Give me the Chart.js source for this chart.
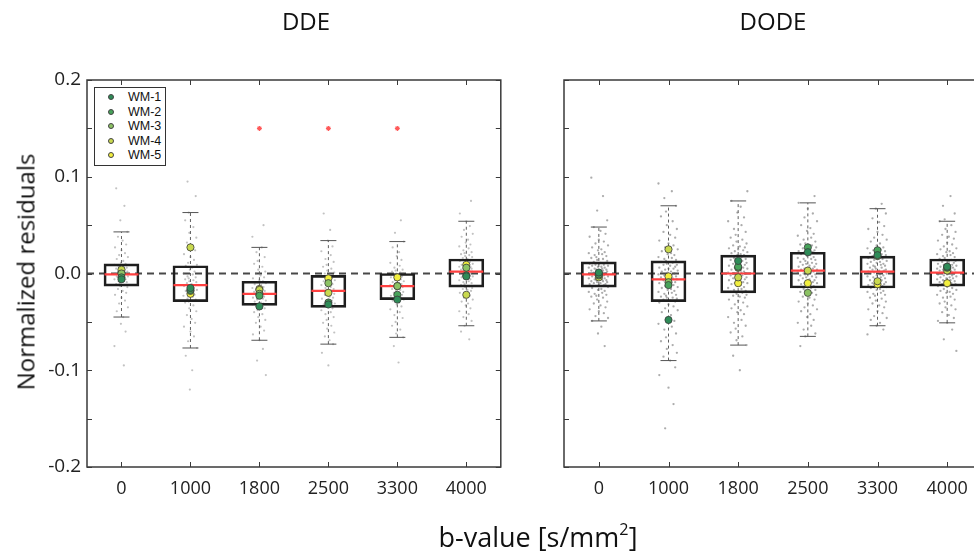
<!DOCTYPE html>
<html><head><meta charset="utf-8">
<script src="https://cdn.jsdelivr.net/npm/chart.js@4.4.0/dist/chart.umd.min.js"></script>
<style>
html,body{margin:0;padding:0;background:#fff;width:974px;height:560px;overflow:hidden;font-family:'Open Sans',sans-serif;}
#wrap{position:relative;width:974px;height:560px;overflow:hidden;}
canvas{position:absolute;top:0;}
#cA{left:0}
#cB{left:520px}
.title{position:absolute;top:4px;font-size:24px;color:#111;transform:translateX(-50%);white-space:nowrap;}
#ylab{position:absolute;left:25px;top:272px;font-size:24px;color:#111;transform:translate(-50%,-50%) rotate(-90deg);white-space:nowrap;}
#xlab{position:absolute;left:538px;top:518px;font-size:27px;color:#111;transform:translateX(-50%);white-space:nowrap;}
#xlab sup{font-size:60%;vertical-align:0.75em;line-height:0}
#legend{position:absolute;left:94px;top:87px;width:72px;height:79px;border:1.5px solid #333;box-sizing:border-box;background:#fff;font-family:'Liberation Sans',Arial,sans-serif;font-size:12.5px;color:#111}
.li{position:absolute;left:13px;height:14px;display:flex;align-items:center;white-space:nowrap;}
.dot{display:inline-block;width:6px;height:6px;border-radius:50%;box-sizing:border-box;border:0.6px solid #444;margin-right:14px;flex:none}
</style></head>
<body>
<div id="wrap">
  <canvas id="cA" width="520" height="560"></canvas>
  <canvas id="cB" width="520" height="560"></canvas>
  <div class="title" id="tA" style="left:306px"></div>
  <div class="title" id="tB" style="left:773px"></div>
  <div id="ylab">Normalized residuals</div>
  <div id="xlab">b-value [s/mm<sup>2</sup>]</div>
  <div id="legend"></div>
</div>
<script>
// ---------- data ----------
const bValues = ['0', '1000', '1800', '2500', '3300', '4000'];
const panelTitles = ['DDE', 'DODE'];
const wmLabels = ['WM-1', 'WM-2', 'WM-3', 'WM-4', 'WM-5'];
const yTickValues = [-0.2, -0.1, 0.0, 0.1, 0.2];

// DDE box statistics
const ddeLow    = [-0.045, -0.077, -0.069, -0.073, -0.066, -0.054];
const ddeQ1     = [-0.013, -0.029, -0.033, -0.035, -0.027, -0.014];
const ddeMedian = [-0.001, -0.012, -0.021, -0.018, -0.013,  0.002];
const ddeQ3     = [ 0.010,  0.008, -0.008, -0.002,  0.000,  0.015];
const ddeHigh   = [ 0.043,  0.063,  0.027,  0.034,  0.033,  0.054];
const ddeSig    = [null, null, 0.15, 0.15, 0.15, null];

// DODE box statistics
const dodeLow    = [-0.049, -0.090, -0.074, -0.065, -0.054, -0.051];
const dodeQ1     = [-0.014, -0.029, -0.020, -0.015, -0.015, -0.013];
const dodeMedian = [-0.001, -0.006,  0.000,  0.003,  0.002,  0.001];
const dodeQ3     = [ 0.012,  0.013,  0.019,  0.022,  0.018,  0.015];
const dodeHigh   = [ 0.048,  0.070,  0.075,  0.073,  0.067,  0.054];
const dodeSig    = [null, null, null, null, null, null];

// WM ROI means, one array per ROI across b-values
const ddeWM1 = [-0.006, -0.015, -0.034, -0.032, -0.027, -0.003];
const ddeWM2 = [-0.004, -0.017, -0.023, -0.030, -0.022, -0.002];
const ddeWM3 = [ 0.000, -0.018, -0.021, -0.010, -0.013,  0.006];
const ddeWM4 = [ 0.004,  0.027, -0.017, -0.020, -0.013, -0.022];
const ddeWM5 = [ 0.001, -0.021, -0.016, -0.005, -0.004,  0.009];
const dodeWM1 = [ 0.001, -0.048,  0.013,  0.022,  0.019,  0.007];
const dodeWM2 = [-0.001, -0.012,  0.007,  0.027,  0.024,  0.006];
const dodeWM3 = [-0.002, -0.009,  0.006, -0.020,  0.018,  0.007];
const dodeWM4 = [-0.004,  0.025, -0.004,  0.003, -0.008,  0.003];
const dodeWM5 = [ 0.000, -0.003, -0.010, -0.010, -0.011, -0.010];

// individual voxel residuals (in units of 0.001), one list per b-value
const RES_UNIT = 0.001;
const ddeVoxels = [
  [88,70,55,43,38,34,30,27,24,21,19,17,15,13,11, 10,9,8,7,6,5,5,4,3,2,2,1,0,0,-1,
   -1,-2,-3,-3,-4,-5,-6,-6,-7,-8,-9,-10,-11,-12,-13, -14,-16,-18,-20,-22,-25,-28,-31,-35,-39,-45,-52,-60,-75,-95],
  [95,80,63,55,48,42,37,32,28,24,20,17,14,11,9, 8,6,4,2,0,-1,-3,-4,-5,-6,-7,-8,-9,-10,-11,
   -12,-13,-14,-15,-16,-17,-18,-19,-20,-22,-23,-24,-26,-27,-29, -30,-33,-36,-39,-43,-47,-51,-55,-60,-65,-70,-77,-85,-100,-120],
  [50,38,27,22,17,13,10,7,4,2,0,-2,-4,-5,-7, -8,-9,-10,-11,-12,-13,-14,-15,-16,-17,-18,-18,-19,-20,-21,
   -21,-22,-23,-24,-25,-25,-26,-27,-28,-29,-30,-31,-31,-32,-33, -34,-36,-38,-40,-42,-45,-48,-51,-55,-59,-63,-69,-78,-90,-105],
  [62,45,34,28,23,19,15,12,9,7,5,3,1,0,-1, -2,-3,-4,-5,-6,-7,-8,-9,-10,-11,-12,-14,-15,-16,-17,
   -18,-19,-20,-21,-22,-24,-25,-26,-27,-28,-29,-31,-32,-33,-35, -36,-38,-40,-42,-45,-48,-51,-54,-57,-61,-65,-69,-73,-82,-95],
  [55,42,33,27,22,18,14,11,8,6,4,3,2,1,0, 0,-1,-2,-3,-4,-5,-6,-7,-8,-9,-10,-10,-11,-12,-13,
   -13,-14,-15,-16,-17,-18,-19,-20,-21,-22,-23,-24,-25,-26,-27, -28,-30,-32,-34,-37,-40,-43,-46,-50,-54,-58,-62,-66,-75,-92],
  [75,62,54,49,45,41,38,35,32,30,28,26,24,22,21,20,19,18,17,16, 15,14,13,12,12,11,10,9,9,8,7,7,6,5,5,4,4,3,3,2,
   2,1,0,0,-1,-2,-2,-3,-4,-5,-5,-6,-7,-8,-9,-10,-11,-12,-13,-14, -15,-16,-17,-18,-20,-21,-23,-25,-27,-29,-31,-33,-36,-39,-42,-45,-49,-54,-60,-68]
];
const dodeVoxels = [
  [99,80,65,55,48,44,41,38,35,33,31,29,27,25,24,22,21,20,19,18,17,16,15,14,13,
   12,11,11,10,10,9,9,8,8,7,7,6,6,5,5,4,4,3,3,2,2,1,1,0,-1,
   -1,-2,-2,-3,-3,-4,-4,-5,-5,-6,-6,-7,-7,-8,-8,-9,-9,-10,-10,-11,-11,-12,-12,-13,-14,
   -15,-16,-17,-18,-19,-20,-21,-22,-23,-24,-25,-27,-29,-31,-33,-35,-37,-39,-41,-44,-46,-49,-55,-62,-75],
  [93,85,78,70,64,59,54,50,46,43,40,37,34,31,29,27,25,23,21,20,19,17,16,15,14,
   13,12,11,10,9,9,8,7,6,5,5,4,3,2,2,1,0,-1,-1,-2,-3,-4,-4,-5,-6,
   -6,-7,-8,-9,-10,-11,-12,-13,-14,-15,-16,-17,-18,-19,-20,-21,-22,-23,-24,-25,-25,-26,-27,-28,-29,
   -30,-32,-34,-36,-38,-40,-43,-46,-49,-52,-55,-58,-62,-66,-70,-74,-78,-82,-86,-90,-97,-105,-118,-135,-160],
  [85,75,69,63,58,54,50,46,43,40,37,35,33,31,29,28,27,26,25,24,23,22,21,20,19,
   19,18,17,16,15,14,14,13,12,11,10,10,9,8,7,6,6,5,4,3,3,2,1,1,0,
   0,-1,-2,-2,-3,-4,-5,-5,-6,-7,-8,-9,-10,-10,-11,-12,-13,-14,-15,-16,-17,-18,-19,-19,-20,
   -21,-22,-23,-24,-25,-27,-28,-30,-32,-34,-36,-38,-40,-42,-45,-48,-51,-54,-57,-61,-65,-69,-74,-85,-100],
  [80,73,67,62,58,54,50,47,44,41,39,37,35,33,31,30,29,28,27,26,25,24,23,23,22,
   22,21,20,19,18,17,16,15,15,14,13,12,11,10,10,9,8,7,7,6,5,5,4,4,3,
   3,2,1,1,0,-1,-1,-2,-3,-4,-4,-5,-6,-7,-7,-8,-9,-10,-10,-11,-12,-13,-13,-14,-15,
   -16,-17,-18,-19,-20,-21,-22,-24,-25,-27,-29,-31,-33,-35,-37,-39,-42,-45,-48,-51,-54,-58,-62,-65,-75],
  [72,67,62,57,53,49,46,43,40,37,35,33,31,29,27,26,25,24,23,22,21,20,20,19,18,
   18,17,16,15,15,14,13,12,12,11,10,10,9,8,8,7,6,6,5,4,4,3,3,2,2,
   2,1,0,0,-1,-2,-2,-3,-4,-4,-5,-6,-7,-7,-8,-9,-10,-10,-11,-12,-12,-13,-14,-14,-15,
   -16,-17,-18,-19,-20,-21,-22,-23,-25,-26,-28,-29,-31,-33,-35,-37,-39,-41,-44,-46,-48,-51,-54,-58,-63],
  [80,70,62,56,54,50,46,43,40,38,36,34,32,30,28,26,25,23,22,21,20,19,18,17,16,
   15,14,14,13,12,12,11,10,10,9,9,8,7,7,6,6,5,5,4,4,3,3,2,2,1,
   1,0,0,-1,-1,-2,-2,-3,-4,-4,-5,-5,-6,-7,-7,-8,-8,-9,-10,-10,-11,-11,-12,-12,-13,
   -14,-15,-16,-17,-18,-19,-20,-21,-22,-24,-25,-27,-29,-31,-33,-35,-37,-40,-43,-46,-49,-51,-58,-68,-80]
];

// ---------- styles ----------
const wmColors = ['#2e8b57', '#47a35a', '#8cc264', '#c9d94f', '#f2ef3e'];
const jitterPattern = [-0.09,0.05,-0.02,0.10,-0.06,0.02,0.08,-0.11,0.00,0.06,-0.04,0.11,-0.08,0.03,-0.01,0.07,-0.12,0.04,-0.05,0.09,-0.03];
const FONT = "'Open Sans', sans-serif";

document.getElementById('tA').textContent = panelTitles[0];
document.getElementById('tB').textContent = panelTitles[1];

// legend (HTML, built from the arrays)
const leg = document.getElementById('legend');
wmLabels.forEach((lab, k) => {
  const row = document.createElement('div');
  row.className = 'li';
  row.style.top = (2 + k * 14.6) + 'px';
  const dot = document.createElement('span');
  dot.className = 'dot';
  dot.style.background = wmColors[k];
  const txt = document.createElement('span');
  txt.textContent = lab;
  row.appendChild(dot); row.appendChild(txt);
  leg.appendChild(row);
});

const framePlugin = {
  id: 'frame',
  beforeDatasetsDraw(chart) {
    const {ctx, chartArea: a, scales: {y}} = chart;
    const y0 = y.getPixelForValue(0);
    ctx.save();
    ctx.strokeStyle = '#484848';
    ctx.lineWidth = 2;
    ctx.setLineDash([7, 5]);
    ctx.beginPath(); ctx.moveTo(a.left, y0); ctx.lineTo(a.right, y0); ctx.stroke();
    ctx.restore();
  },
  afterDatasetsDraw(chart) {
    const {ctx, chartArea: a, scales: {x, y}} = chart;
    ctx.save();
    ctx.strokeStyle = '#3a3a3a';
    ctx.lineWidth = 1.5;
    ctx.strokeRect(a.left, a.top, a.right - a.left, a.bottom - a.top);
    ctx.lineWidth = 1;
    const L = 5;
    const yMarks = [];
    yTickValues.forEach((v, i) => {
      yMarks.push(v);
      if (i < yTickValues.length - 1) yMarks.push((v + yTickValues[i + 1]) / 2);
    });
    ctx.beginPath();
    yMarks.forEach(v => {
      const p = Math.round(y.getPixelForValue(v)) + 0.5;
      ctx.moveTo(a.left, p); ctx.lineTo(a.left + L, p);
      ctx.moveTo(a.right, p); ctx.lineTo(a.right - L, p);
    });
    bValues.forEach((_, i) => {
      const p = Math.round(x.getPixelForValue(i)) + 0.5;
      ctx.moveTo(p, a.bottom); ctx.lineTo(p, a.bottom - L);
      ctx.moveTo(p, a.top); ctx.lineTo(p, a.top + L);
    });
    ctx.stroke();
    ctx.restore();
  }
};

function makePanel(canvasId, s, opt) {
  const ds = [];
  s.wm.forEach((arr, k) => {
    ds.push({
      type: 'line', label: wmLabels[k], order: 0, showLine: false,
      data: arr.map((v, i) => ({x: i, y: v})),
      pointRadius: 3.6, pointBackgroundColor: wmColors[k],
      pointBorderColor: '#3a3a3a', pointBorderWidth: 0.8
    });
  });
  ds.push({
    type: 'line', order: 0, showLine: false,
    data: s.sig.map((v, i) => ({x: i, y: v})),
    pointStyle: 'star', pointRadius: 2.5, pointBorderColor: '#ff5a5a', pointBorderWidth: 1.2,
    pointBackgroundColor: '#ff5a5a'
  });
  ds.push({
    type: 'line', order: 1, showLine: false,
    data: s.median.map((v, i) => ({x: i, y: v})),
    pointStyle: 'line', pointRadius: 17, pointBorderColor: '#ff4040', pointBorderWidth: 2.2
  });
  const caps = [];
  s.low.forEach((v, i) => { caps.push({x: i, y: v}); caps.push({x: i, y: s.high[i]}); });
  ds.push({
    type: 'line', order: 2, showLine: false, data: caps,
    pointStyle: 'line', pointRadius: 8, pointBorderColor: '#555', pointBorderWidth: 1
  });
  ds.push({
    type: 'bar', order: 3,
    data: s.q1.map((v, i) => ({x: i, y: [v, s.q3[i]]})),
    barThickness: 35, backgroundColor: 'rgba(0,0,0,0)', borderColor: '#1e1e1e',
    borderWidth: 2, borderSkipped: false
  });
  const wh = [];
  s.low.forEach((v, i) => { wh.push({x: i, y: v}); wh.push({x: i, y: s.high[i]}); wh.push({x: i, y: null}); });
  ds.push({
    type: 'line', order: 4, data: wh, spanGaps: false,
    borderColor: '#606060', borderWidth: 1, borderDash: [3, 3], pointRadius: 0
  });
  const cloud = [];
  let k = 0;
  s.voxels.forEach((list, i) => {
    list.forEach(v => {
      cloud.push({x: i + jitterPattern[k % jitterPattern.length] * opt.spread, y: v * RES_UNIT});
      k++;
    });
  });
  ds.push({
    type: 'line', order: 5, showLine: false, data: cloud,
    pointRadius: opt.cloudRadius, pointBackgroundColor: opt.cloudColor, pointBorderWidth: 0
  });

  return new Chart(document.getElementById(canvasId), {
    type: 'line',
    data: {datasets: ds},
    options: {
      responsive: false, animation: false, events: [],
      layout: {padding: opt.padding},
      plugins: {legend: {display: false}, tooltip: {enabled: false}, title: {display: false}},
      scales: {
        x: {
          type: 'linear', min: -0.5, max: 5.5, offset: false,
          afterBuildTicks: sc => { sc.ticks = bValues.map((_, i) => ({value: i})); },
          afterFit: sc => { sc.height = 40; sc.paddingLeft = 0; sc.paddingRight = 0; },
          grid: {display: false, drawTicks: false, offset: false}, border: {display: false},
          ticks: {autoSkip: false, maxRotation: 0, padding: 11, color: '#222',
                  font: {family: FONT, size: 18}, callback: v => bValues[v]}
        },
        y: {
          type: 'linear', min: -0.2, max: 0.2,
          afterBuildTicks: sc => { sc.ticks = yTickValues.map(v => ({value: v})); },
          afterFit: sc => { sc.width = opt.yWidth; },
          grid: {display: false, drawTicks: false}, border: {display: false},
          ticks: {padding: 6, color: '#222', font: {family: FONT, size: 19},
                  callback: v => opt.yLabels ? v.toFixed(1) : ''}
        }
      }
    },
    plugins: [framePlugin]
  });
}

makePanel('cA', {
  low: ddeLow, q1: ddeQ1, median: ddeMedian, q3: ddeQ3, high: ddeHigh, sig: ddeSig,
  wm: [ddeWM1, ddeWM2, ddeWM3, ddeWM4, ddeWM5], voxels: ddeVoxels
}, {padding: {left: 0, top: 80, right: 16, bottom: 53}, yWidth: 87, yLabels: true,
    spread: 0.85, cloudRadius: 1.1, cloudColor: 'rgba(120,120,120,0.45)'});

makePanel('cB', {
  low: dodeLow, q1: dodeQ1, median: dodeMedian, q3: dodeQ3, high: dodeHigh, sig: dodeSig,
  wm: [dodeWM1, dodeWM2, dodeWM3, dodeWM4, dodeWM5], voxels: dodeVoxels
}, {padding: {left: 0, top: 80, right: 58, bottom: 53}, yWidth: 44, yLabels: false,
    spread: 1.2, cloudRadius: 1.15, cloudColor: 'rgba(90,90,90,0.5)'});
</script>
</body></html>
